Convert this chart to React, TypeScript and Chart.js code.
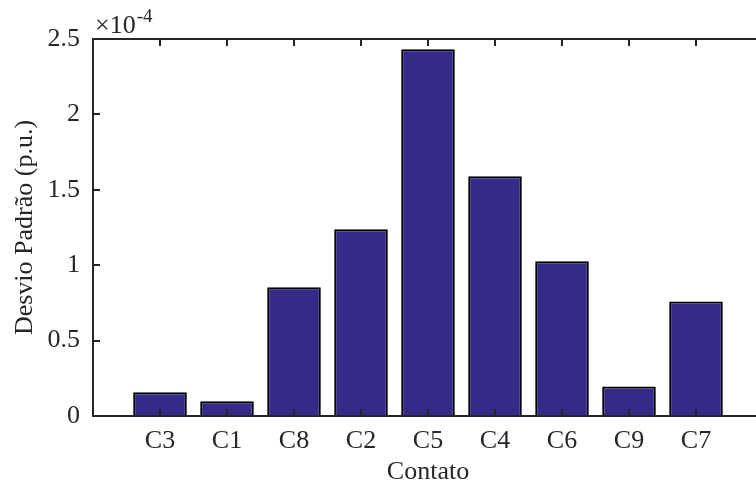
import React, { useEffect, useRef } from 'react';
import { Chart, registerables } from 'chart.js';

Chart.register(...registerables);

// Data (values in units of 1e-4 p.u.)
const categories = ['C3', 'C1', 'C8', 'C2', 'C5', 'C4', 'C6', 'C9', 'C7'];
const values = [0.157, 0.097, 0.853, 1.238, 2.432, 1.59, 1.026, 0.195, 0.76];
const categoryPositions = [1, 2, 3, 4, 5, 6, 7, 8, 9];
const yTickValues = [0, 0.5, 1, 1.5, 2, 2.5];
const yTickLabels = ['0', '0.5', '1', '1.5', '2', '2.5'];
const exponentBase = '\u00D710';
const exponentPower = '-4';

const FONT = '"Liberation Serif", "Times New Roman", Times, serif';
const AXIS_COLOR = '#262626';
const BAR_COLOR = 'rgb(53,42,135)';

const axesPlugin = {
  id: 'matlabAxes',
  afterDatasetsDraw(chart: any) {
    const { ctx, chartArea, scales } = chart;
    const { left, right, top, bottom } = chartArea;
    const x = scales.x;
    const y = scales.y;
    ctx.save();
    ctx.strokeStyle = AXIS_COLOR;
    ctx.lineWidth = 2;
    ctx.beginPath();
    ctx.moveTo(left, top);
    ctx.lineTo(right, top);
    ctx.lineTo(right, bottom);
    ctx.lineTo(left, bottom);
    ctx.closePath();
    ctx.stroke();
    const len = 7;
    ctx.beginPath();
    x.ticks.forEach((t: any) => {
      const px = Math.round(x.getPixelForValue(t.value));
      ctx.moveTo(px, bottom);
      ctx.lineTo(px, bottom - len);
      ctx.moveTo(px, top);
      ctx.lineTo(px, top + len);
    });
    y.ticks.forEach((t: any) => {
      const py = Math.round(y.getPixelForValue(t.value));
      ctx.moveTo(left, py);
      ctx.lineTo(left + len, py);
      ctx.moveTo(right, py);
      ctx.lineTo(right - len, py);
    });
    ctx.stroke();

    // exponent label
    ctx.fillStyle = AXIS_COLOR;
    ctx.textBaseline = 'alphabetic';
    ctx.textAlign = 'left';
    ctx.font = `26px ${FONT}`;
    const bx = left + 2;
    const by = top - 6;
    ctx.fillText(exponentBase, bx, by);
    const w = ctx.measureText(exponentBase).width;
    ctx.font = `19px ${FONT}`;
    ctx.fillText(exponentPower, bx + w + 1, by - 11);
    ctx.restore();
  },
};

export default function App() {
  const canvasRef = useRef<HTMLCanvasElement | null>(null);

  useEffect(() => {
    const canvas = canvasRef.current;
    if (!canvas) return;
    const chart = new Chart(canvas, {
      type: 'bar',
      data: {
        datasets: [
          {
            data: categoryPositions.map((p, i) => ({ x: p, y: values[i] })),
            backgroundColor: BAR_COLOR,
            borderColor: '#000000',
            borderWidth: 2,
            barPercentage: 0.8,
            categoryPercentage: 1,
          },
        ],
      },
      options: {
        responsive: false,
        animation: false,
        devicePixelRatio: 1,
        layout: { padding: { top: 39, left: 0, right: 7, bottom: 0 } },
        plugins: {
          legend: { display: false },
          tooltip: { enabled: false },
        },
        scales: {
          x: {
            type: 'linear',
            min: 0,
            max: 10,
            offset: false,
            grid: { display: false, drawTicks: false },
            border: { display: false },
            afterBuildTicks: (s: any) => {
              s.ticks = categoryPositions.map((p) => ({ value: p }));
            },
            ticks: {
              autoSkip: false,
              maxRotation: 0,
              padding: 10,
              color: AXIS_COLOR,
              font: { family: FONT, size: 26 },
              callback: (v: any) => {
                const idx = categoryPositions.indexOf(Math.round(Number(v)));
                return idx >= 0 ? categories[idx] : '';
              },
            },
            title: {
              display: true,
              text: 'Contato',
              color: AXIS_COLOR,
              font: { family: FONT, size: 26 },
              padding: { top: 0, bottom: 3 },
            },
            afterFit: (s: any) => {
              s.height = 75;
            },
          },
          y: {
            min: 0,
            max: 2.5,
            grid: { display: false, drawTicks: false },
            border: { display: false },
            afterBuildTicks: (s: any) => {
              s.ticks = yTickValues.map((v) => ({ value: v }));
            },
            ticks: {
              padding: 13,
              color: AXIS_COLOR,
              font: { family: FONT, size: 26 },
              callback: (v: any) => {
                const idx = yTickValues.indexOf(Number(v));
                return idx >= 0 ? yTickLabels[idx] : '';
              },
            },
            title: {
              display: true,
              text: 'Desvio Padrão (p.u.)',
              color: AXIS_COLOR,
              font: { family: FONT, size: 26 },
              padding: { top: 10, bottom: 0 },
            },
            afterFit: (s: any) => {
              s.width = 93;
            },
          },
        },
      },
      plugins: [axesPlugin],
    } as any);
    return () => chart.destroy();
  }, []);

  return (
    <div
      style={{
        position: 'fixed',
        left: 0,
        top: 0,
        width: 756,
        height: 491,
        overflow: 'hidden',
        background: '#ffffff',
      }}
    >
      <canvas ref={canvasRef} width={770} height={491} style={{ display: 'block', width: 770, height: 491 }} />
    </div>
  );
}
